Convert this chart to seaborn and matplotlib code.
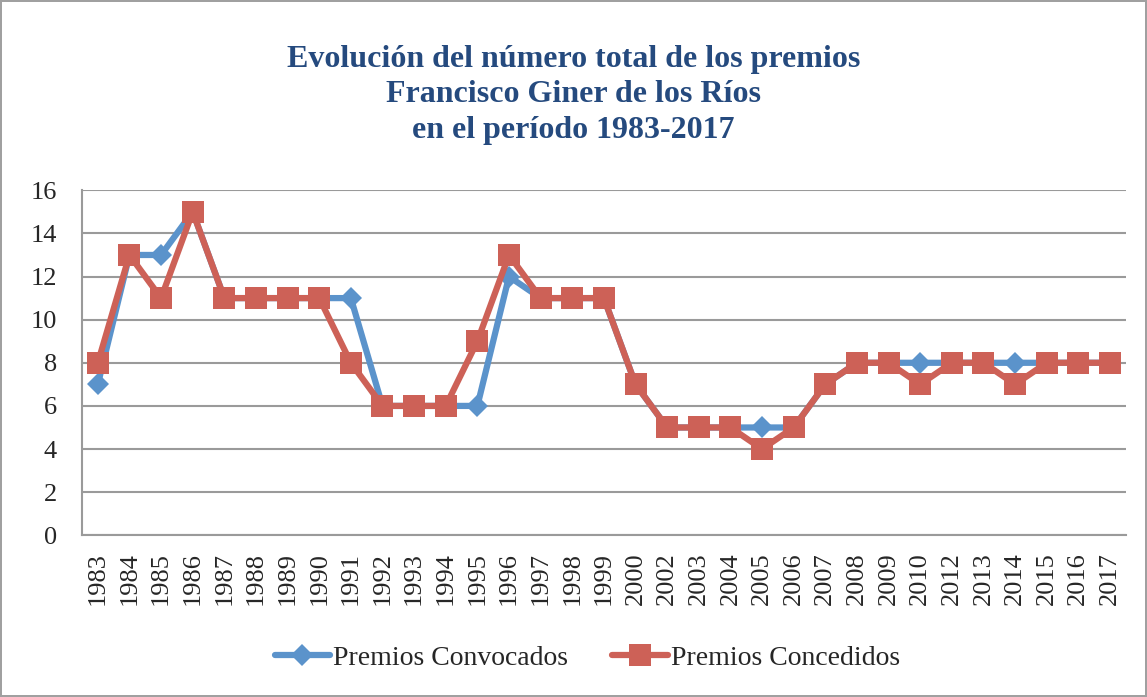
import pandas as pd
import seaborn as sns
import matplotlib.pyplot as plt

# Years shown on the axis (2001 and 2011 are not in the chart)
years = ['1983', '1984', '1985', '1986', '1987', '1988', '1989', '1990', '1991',
         '1992', '1993', '1994', '1995', '1996', '1997', '1998', '1999', '2000',
         '2002', '2003', '2004', '2005', '2006', '2007', '2008', '2009', '2010',
         '2012', '2013', '2014', '2015', '2016', '2017']

convocados = [7, 13, 13, 15, 11, 11, 11, 11, 11, 6, 6, 6, 6, 12, 11, 11, 11, 7,
              5, 5, 5, 5, 5, 7, 8, 8, 8, 8, 8, 8, 8, 8, 8]
concedidos = [8, 13, 11, 15, 11, 11, 11, 11, 8, 6, 6, 6, 9, 13, 11, 11, 11, 7,
              5, 5, 5, 4, 5, 7, 8, 8, 7, 8, 8, 7, 8, 8, 8]

series_names = ['Premios Convocados', 'Premios Concedidos']

df = pd.DataFrame({'Año': years, series_names[0]: convocados, series_names[1]: concedidos})
df['pos'] = range(len(df))
long_df = df.melt(id_vars=['Año', 'pos'], value_vars=series_names,
                  var_name='Serie', value_name='Premios')

sns.set_style('white')
plt.rcParams['font.family'] = ['Liberation Serif', 'DejaVu Serif']

fig = plt.figure(figsize=(11.47, 6.97), dpi=100)
fig.patch.set_edgecolor('#a0a0a0')
fig.patch.set_linewidth(1.5)
ax = fig.add_axes([0.0715, 0.232, 0.91, 0.495])

palette = {series_names[0]: '#5b93cb', series_names[1]: '#cd6157'}
markers = {series_names[0]: 'D', series_names[1]: 's'}
sizes = {series_names[0]: 11, series_names[1]: 16}

for name in series_names:
    sub = long_df[long_df['Serie'] == name]
    sns.lineplot(data=sub, x='pos', y='Premios', ax=ax, color=palette[name],
                 linewidth=4.5, marker=markers[name], markersize=sizes[name],
                 markeredgewidth=0, label=name, sort=False)

ax.set_xlim(-0.5, len(years) - 0.5)
ax.set_ylim(0, 16)
ax.set_yticks(range(0, 17, 2))
ax.set_xticks(range(len(years)))
ax.set_xticklabels(years, rotation=90, fontsize=19)
ax.tick_params(axis='y', labelsize=19, length=0, pad=18)
ax.tick_params(axis='x', length=0, pad=12)
ax.set_xlabel('')
ax.set_ylabel('')
ax.yaxis.grid(True, color='#9a9a9a', linewidth=1.5)
ax.set_axisbelow(True)
for s in ['top', 'right']:
    ax.spines[s].set_visible(False)
for s in ['left', 'bottom']:
    ax.spines[s].set_color('#9a9a9a')
    ax.spines[s].set_linewidth(1.5)

fig.text(0.5, 0.864, 'Evolución del número total de los premios\n'
         'Francisco Giner de los Ríos\nen el período 1983-2017',
         ha='center', va='center', fontsize=23, fontweight='bold',
         color='#254a7e', linespacing=1.3)

ax.legend(loc='center', bbox_to_anchor=(0.512, 0.056), bbox_transform=fig.transFigure,
          ncol=2, frameon=False, fontsize=20, handlelength=2.0, columnspacing=1.6,
          handletextpad=0.1)

fig.savefig('out.png', dpi=100, edgecolor=fig.get_edgecolor())
